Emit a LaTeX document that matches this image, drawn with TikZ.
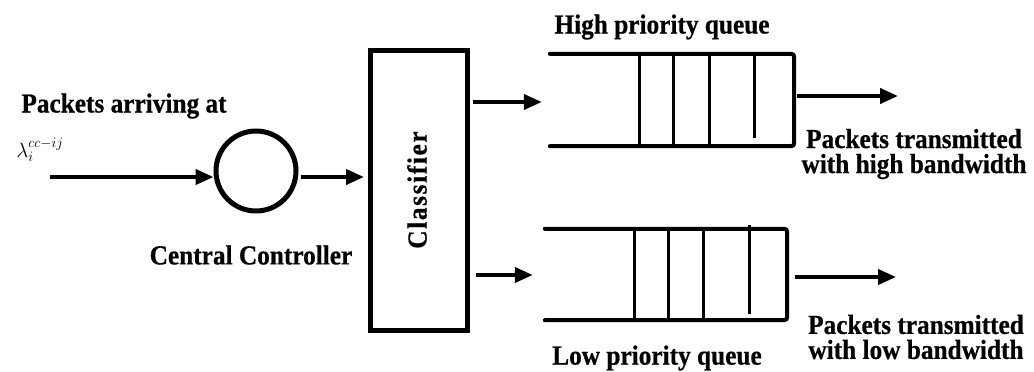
\documentclass[tikz,border=0pt]{standalone}
\usepackage{fontspec}
\setmainfont{Liberation Serif}
\newfontfamily\labelfont[FakeStretch=0.92, FakeBold=0.6]{Liberation Serif Bold}
\usetikzlibrary{arrows.meta}
\begin{document}
\begin{tikzpicture}[x=1pt,y=-1pt,
  lbl/.style={font=\fontsize{27.5}{25}\selectfont\labelfont, inner sep=0pt, align=center},
  flow/.style={line width=4pt, -{Triangle[length=18pt,width=15pt]}},
  qline/.style={line width=4pt, line cap=round},
  slot/.style={line width=3pt},
  hidden/.style={draw=none, inner sep=0pt, minimum width=#1},
]
\useasboundingbox (0,0) rectangle (1034,372);

% central controller and classifier
\node[circle, draw, line width=5pt, minimum size=80pt, inner sep=0pt] (ctl) at (256,171) {};
\node[rectangle, draw, line width=5pt, minimum width=97pt, minimum height=280pt, inner sep=0pt] (cls) at (419,190.5) {};
\node[lbl, rotate=90, font=\fontsize{27.5}{28}\selectfont\labelfont\addfontfeature{LetterSpace=6}] (clst) at (417,190) {Classifier};

% queue footprints (drawn by hand below)
\node[hidden=244pt, minimum height=92pt] (hq) at (672,100) {};
\node[hidden=242pt, minimum height=91pt] (lq) at (666,274.5) {};

% high priority queue
\draw[qline, rounded corners=3pt] (hq.north west) -- (hq.north east) -- (hq.south east) -- (hq.south west);
\foreach \x in {639,673,709} \draw[slot] (\x,54) -- (\x,146);
\draw[slot] (754,52) -- (754,138);

% low priority queue
\draw[qline, rounded corners=3pt] (lq.north west) -- (lq.north east) -- (lq.south east) -- (lq.south west);
\foreach \x in {634,668,703} \draw[slot] (\x,229) -- (\x,320);
\draw[slot] (749,225) -- (749,314);

% connectors
\coordinate (in) at (50,177);
\coordinate (hout) at (898,96);
\coordinate (lout) at (896,277);
\draw[flow] (in) -- (in -| ctl.west);
\draw[flow] ([xshift=2pt]ctl.east |- in) -- ([xshift=-4pt]cls.west |- in);
\draw[flow] ([xshift=3pt]cls.east |- 0,102) -- ([xshift=-8pt]hq.west |- 0,102);
\draw[flow] ([xshift=6pt]cls.east |- 0,275) -- ([xshift=-12pt]lq.west |- 0,275);
\draw[flow] ([xshift=3pt]hq.east |- hout) -- (hout);
\draw[flow] ([xshift=8pt]lq.east |- lout) -- (lout);

% labels
\node[lbl] (arr) at (124,106) {Packets arriving at};
\node[inner sep=0pt, font=\fontsize{22}{24}\selectfont] (lam) at (40,150) {$\lambda_i^{cc-ij}$};
\node[lbl] (ctlt) at (251,255) {Central Controller};
\node[lbl] (hqt) at (662,27) {High priority queue};
\node[lbl] (lqt) at (657,358) {Low priority queue};
\node[lbl] (ht) at (914,154) {Packets transmitted\\with high bandwidth};
\node[lbl] (lt) at (916,337) {Packets transmitted\\with low bandwidth};
\end{tikzpicture}
\end{document}
